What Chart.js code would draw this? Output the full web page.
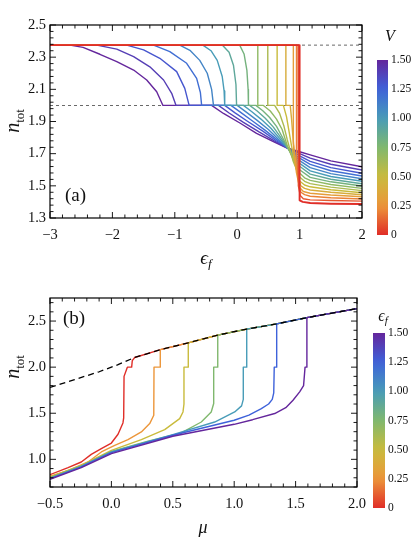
<!DOCTYPE html>
<html>
<head>
<meta charset="utf-8">
<script src="https://cdn.jsdelivr.net/npm/chart.js@4/dist/chart.umd.min.js"></script>
<style>
html,body{margin:0;padding:0;background:#fff;}
#wrap{position:relative;width:415px;height:542px;}
#ca{position:absolute;left:0;top:0;}
#cb{position:absolute;left:0;top:270px;}
</style>
</head>
<body>
<div id="wrap">
<canvas id="ca" width="415" height="270"></canvas>
<canvas id="cb" width="415" height="272"></canvas>
</div>
<script>
// panel (a): n_tot vs eps_f, one curve per V
const aV=[1.5,1.4,1.3,1.2,1.1,1.0,0.9,0.8,0.7,0.6,0.5,0.4,0.3,0.2,0.1,0];
const aC15=[[-3,2.375],[-2.68,2.375],[-2.47,2.361],[-2.2,2.318],[-1.93,2.272],[-1.66,2.22],[-1.45,2.158],[-1.29,2.085],[-1.19,2.0],[-0.41,2.0],[-0.22,1.95],[0.05,1.889],[0.31,1.826],[0.58,1.775],[0.8,1.735],[1.0,1.712],[1.17,1.692],[1.5,1.655],[2.0,1.619]];
const aC14=[[-3,2.375],[-2.25,2.375],[-1.93,2.35],[-1.66,2.303],[-1.4,2.24],[-1.18,2.158],[-1.05,2.075],[-0.98,2.0],[-0.3,2.0],[-0.13,1.953],[0.1,1.895],[0.35,1.835],[0.6,1.778],[0.8,1.736],[1.0,1.7],[1.17,1.672],[1.5,1.634],[2.0,1.598]];
const aC13=[[-3,2.375],[-1.77,2.375],[-1.5,2.345],[-1.24,2.293],[-0.97,2.21],[-0.84,2.106],[-0.77,2.0],[-0.2,2.0],[-0.04,1.955],[0.17,1.9],[0.41,1.84],[0.62,1.782],[0.8,1.737],[1.0,1.687],[1.17,1.652],[1.5,1.613],[2.0,1.578]];
const aC12=[[-3,2.375],[-1.34,2.375],[-1.08,2.334],[-0.81,2.262],[-0.65,2.168],[-0.59,2.08],[-0.57,2.0],[-0.1,2.0],[0.05,1.958],[0.24,1.905],[0.45,1.845],[0.64,1.786],[0.8,1.738],[1.0,1.672],[1.17,1.633],[1.5,1.594],[2.0,1.561]];
const aC11=[[-3,2.375],[-0.92,2.375],[-0.75,2.34],[-0.6,2.28],[-0.48,2.2],[-0.41,2.1],[-0.38,2.0],[0.0,2.0],[0.14,1.96],[0.31,1.91],[0.5,1.85],[0.66,1.79],[0.8,1.739],[1.0,1.657],[1.17,1.613],[1.5,1.576],[2.0,1.544]];
const aC10=[[-3,2.375],[-0.55,2.375],[-0.42,2.34],[-0.32,2.28],[-0.24,2.18],[-0.21,2.09],[-0.2,2.0],[0.1,2.0],[0.23,1.962],[0.38,1.915],[0.54,1.858],[0.68,1.795],[0.8,1.74],[0.9,1.69],[1.0,1.64],[1.17,1.593],[1.5,1.558],[2.0,1.528]];
const aC09=[[-3,2.375],[-0.24,2.375],[-0.13,2.33],[-0.06,2.25],[-0.02,2.13],[-0.01,2.0],[0.2,2.0],[0.32,1.965],[0.45,1.92],[0.58,1.865],[0.7,1.8],[0.8,1.742],[0.9,1.68],[1.0,1.622],[1.17,1.573],[1.5,1.541],[2.0,1.513]];
const aC08=[[-3,2.375],[0.04,2.375],[0.11,2.32],[0.155,2.22],[0.175,2.1],[0.18,2.0],[0.3,2.0],[0.41,1.967],[0.52,1.925],[0.63,1.87],[0.72,1.805],[0.8,1.745],[0.9,1.67],[1.0,1.6],[1.17,1.553],[1.5,1.525],[2.0,1.499]];
const aC07=[[-3,2.375],[0.33,2.375],[0.33,2.0],[0.42,2.0],[0.53,1.965],[0.63,1.915],[0.72,1.85],[0.8,1.752],[0.9,1.66],[1.0,1.58],[1.08,1.55],[1.17,1.534],[1.5,1.508],[2.0,1.484]];
const aC06=[[-3,2.375],[0.49,2.375],[0.49,2.0],[0.6,2.0],[0.68,1.95],[0.75,1.87],[0.8,1.79],[0.85,1.72],[0.9,1.65],[1.0,1.555],[1.08,1.528],[1.17,1.514],[1.5,1.492],[2.0,1.47]];
const aC05=[[-3,2.375],[0.64,2.375],[0.64,2.0],[0.74,2.0],[0.79,1.93],[0.83,1.84],[0.87,1.75],[0.91,1.67],[0.95,1.6],[1.0,1.53],[1.08,1.505],[1.17,1.494],[1.5,1.476],[2.0,1.457]];
const aC04=[[-3,2.375],[0.78,2.375],[0.78,2.0],[0.85,2.0],[0.87,1.92],[0.89,1.82],[0.91,1.73],[0.94,1.64],[0.98,1.55],[1.02,1.5],[1.08,1.484],[1.17,1.474],[1.5,1.46],[2.0,1.445]];
const aC03=[[-3,2.375],[0.9,2.375],[0.9,1.76],[0.92,1.68],[0.95,1.58],[1.0,1.49],[1.06,1.465],[1.17,1.454],[1.5,1.443],[2.0,1.432]];
const aC02=[[-3,2.375],[0.95,2.375],[0.95,1.7],[0.97,1.58],[0.99,1.5],[1.02,1.46],[1.08,1.445],[1.17,1.435],[1.5,1.426],[2.0,1.418]];
const aC01=[[-3,2.375],[0.975,2.375],[0.975,1.6],[0.985,1.5],[1.01,1.44],[1.06,1.42],[1.17,1.413],[1.5,1.409],[2.0,1.405]];
const aC00=[[-3,2.375],[1.0,2.375],[1.0,1.41],[1.05,1.4],[1.17,1.393],[1.5,1.389],[2.0,1.387]];
const aCurves=[aC15,aC14,aC13,aC12,aC11,aC10,aC09,aC08,aC07,aC06,aC05,aC04,aC03,aC02,aC01,aC00];
const aDashY=[2.375,2.0];
const aXTicks=[-3,-2,-1,0,1,2];
const aYTicks=[1.3,1.5,1.7,1.9,2.1,2.3,2.5];

// panel (b): n_tot vs mu, one curve per eps_f
const bEps=[0,0.25,0.5,0.75,1.0,1.25,1.5];
const bLow00=[[-0.5,0.834],[-0.353,0.91],[-0.245,0.971],[-0.164,1.054],[-0.082,1.116],[0.0,1.177],[0.054,1.272],[0.094,1.395],[0.1,1.45],[0.103,1.9],[0.13,2.0],[0.165,2.0],[0.17,2.07],[0.19,2.105]];
const bLow25=[[-0.5,0.818],[-0.35,0.88],[-0.19,0.971],[-0.082,1.08],[0.027,1.152],[0.135,1.214],[0.244,1.297],[0.312,1.388],[0.345,1.478],[0.347,2.0],[0.396,2.0],[0.396,2.19]];
const bLow50=[[-0.5,0.808],[-0.245,0.935],[0.0,1.098],[0.244,1.214],[0.434,1.323],[0.556,1.442],[0.583,1.514],[0.591,1.6],[0.591,2.0],[0.626,2.0],[0.626,2.264]];
const bLow75=[[-0.5,0.8],[-0.25,0.925],[0.0,1.087],[0.298,1.196],[0.569,1.286],[0.732,1.405],[0.813,1.514],[0.833,1.605],[0.833,2.0],[0.866,2.0],[0.866,2.348]];
const bLow100=[[-0.5,0.795],[-0.25,0.92],[0.0,1.08],[0.5,1.268],[0.841,1.405],[1.004,1.514],[1.06,1.58],[1.074,1.65],[1.074,2.0],[1.102,2.0],[1.102,2.413]];
const bLow125=[[-0.5,0.79],[-0.25,0.915],[0.0,1.073],[0.5,1.261],[1.0,1.424],[1.12,1.48],[1.221,1.551],[1.28,1.6],[1.31,1.65],[1.322,1.72],[1.326,2.0],[1.346,2.0],[1.346,2.47]];
const bLow150=[[-0.5,0.783],[-0.245,0.91],[0.0,1.062],[0.5,1.25],[1.0,1.38],[1.15,1.43],[1.33,1.497],[1.42,1.56],[1.479,1.641],[1.533,1.732],[1.565,1.8],[1.577,2.0],[1.592,2.0],[1.592,2.537]];
const bLows=[bLow00,bLow25,bLow50,bLow75,bLow100,bLow125,bLow150];
const bEnvelope=[[-0.5,1.78],[-0.3,1.865],[-0.1,1.95],[0.05,2.025],[0.19,2.105],[0.4,2.19],[0.626,2.264],[0.866,2.348],[1.102,2.413],[1.346,2.47],[1.592,2.537],[2.0,2.635]];
const bXTicks=[-0.5,0,0.5,1.0,1.5,2.0];
const bYTicks=[1.0,1.5,2.0,2.5];

const barVals=[0,0.25,0.5,0.75,1.0,1.25,1.5];
const barLabels=['0','0.25','0.50','0.75','1.00','1.25','1.50'];

const fontFam='"Liberation Serif","DejaVu Serif",serif';
const stops=[[224,46,40],[236,150,58],[201,187,60],[128,184,110],[72,156,184],[62,98,218],[100,38,156]];
function rainbow(t){
    const s=Math.max(0,Math.min(1,t))*(stops.length-1);
    const i=Math.min(Math.floor(s),stops.length-2);
    const f=s-i;
    const c=stops[i].map((v,k)=>Math.round(v+(stops[i+1][k]-v)*f));
    return "rgb("+c.join(",")+")";
}
const pts=arr=>arr.map(p=>({x:p[0],y:p[1]}));
const minus=s=>String(s).replace("-","\u2212");

function drawRuns(ctx,runs,x,y,align){
    let w=0;
    runs.forEach(r=>{ctx.font=r.font;w+=ctx.measureText(r.t).width;});
    let cx=align==="center"?x-w/2:x;
    runs.forEach(r=>{
        ctx.font=r.font;
        ctx.fillText(r.t,cx,y+(r.dy||0));
        cx+=ctx.measureText(r.t).width;
    });
}

function makeDecor(cfg){
    return {
        id:"decor",
        afterDraw(chart){
            const ctx=chart.ctx;
            const a=chart.chartArea;
            const x=chart.scales.x,y=chart.scales.y;
            ctx.save();
            ctx.strokeStyle="#000";
            ctx.lineWidth=0.9;
            const seg=(x1,y1,x2,y2)=>{ctx.beginPath();ctx.moveTo(x1,y1);ctx.lineTo(x2,y2);ctx.stroke();};
            for(let k=0;k<500;k++){
                const v=cfg.xStart+k*cfg.xSub;
                if(v>x.max+1e-9)break;
                if(v<x.min-1e-9)continue;
                const px=x.getPixelForValue(v);
                const len=k%cfg.xEvery===0?6:3.5;
                seg(px,a.bottom,px,a.bottom-len);
                seg(px,a.top,px,a.top+len);
            }
            for(let k=0;k<500;k++){
                const v=cfg.yStart+k*cfg.ySub;
                if(v>y.max+1e-9)break;
                if(v<y.min-1e-9)continue;
                const py=y.getPixelForValue(v);
                const len=k%cfg.yEvery===0?6:3.5;
                seg(a.left,py,a.left+len,py);
                seg(a.right,py,a.right-len,py);
            }
            ctx.lineWidth=1.2;
            ctx.strokeRect(a.left,a.top,a.right-a.left,a.bottom-a.top);

            // colour bar
            const b=cfg.bar;
            const g=ctx.createLinearGradient(0,b.bottom,0,b.top);
            for(let i=0;i<=20;i++){g.addColorStop(i/20,rainbow(i/20));}
            ctx.fillStyle=g;
            ctx.fillRect(b.x,b.top,b.w,b.bottom-b.top);
            ctx.fillStyle="#111";
            ctx.font="11.5px "+fontFam;
            ctx.textBaseline="middle";
            ctx.textAlign="left";
            barVals.forEach((v,i)=>{
                const py=b.bottom-v/1.5*(b.bottom-b.top);
                ctx.fillText(barLabels[i],b.x+b.w+3,py);
            });

            ctx.textBaseline="alphabetic";
            cfg.texts.forEach(t=>{
                if(t.rot){
                    ctx.save();
                    ctx.translate(t.x,t.y);
                    ctx.rotate(-Math.PI/2);
                    drawRuns(ctx,t.runs,0,0,"center");
                    ctx.restore();
                }else{
                    drawRuns(ctx,t.runs,t.x,t.y,t.align||"center");
                }
            });
            ctx.restore();
        }
    };
}

function makeChart(id,cfg){
    new Chart(document.getElementById(id),{
        type:"scatter",
        data:{datasets:cfg.datasets},
        options:{
            responsive:false,
            animation:false,
            events:[],
            layout:{padding:{left:0,right:cfg.padRight,top:cfg.padTop,bottom:0}},
            plugins:{legend:{display:false},tooltip:{enabled:false}},
            elements:{point:{radius:0},line:{tension:0,borderJoinStyle:"round"}},
            scales:{
                x:{
                    type:"linear",min:cfg.xMin,max:cfg.xMax,
                    grid:{display:false,drawTicks:false},border:{display:false},
                    afterBuildTicks:s=>{s.ticks=cfg.xTicks.map(v=>({value:v}));},
                    afterFit:s=>{s.height=cfg.xAxisH;},
                    ticks:{autoSkip:false,maxRotation:0,padding:8,color:"#111",
                        font:{family:fontFam,size:14.5},callback:cfg.xFmt}
                },
                y:{
                    type:"linear",min:cfg.yMin,max:cfg.yMax,
                    grid:{display:false,drawTicks:false},border:{display:false},
                    afterBuildTicks:s=>{s.ticks=cfg.yTicks.map(v=>({value:v}));},
                    afterFit:s=>{s.width=50;},
                    ticks:{autoSkip:false,padding:4,color:"#111",
                        font:{family:fontFam,size:14.5},callback:v=>Number(v).toFixed(1)}
                }
            }
        },
        plugins:[makeDecor(cfg)]
    });
}

// datasets for (a)
const aSets=[];
aDashY.forEach(v=>{
    aSets.push({data:pts([[-3,v],[2,v]]),showLine:true,borderColor:"#444",borderWidth:0.8,borderDash:[3,3],order:100});
});
aCurves.forEach((c,i)=>{
    aSets.push({data:pts(c),showLine:true,borderColor:rainbow(aV[i]/1.5),borderWidth:aV[i]===0?1.9:1.4,order:50-i});
});

// datasets for (b)
const bSets=[];
bLows.forEach((low,i)=>{
    const last=low[low.length-1][0];
    const path=low.concat(bEnvelope.filter(p=>p[0]>last));
    bSets.push({data:pts(path),showLine:true,borderColor:rainbow(bEps[i]/1.5),borderWidth:1.4,order:20-i});
});
bSets.push({data:pts(bEnvelope),showLine:true,borderColor:"#000",borderWidth:1.3,borderDash:[6,4],order:0});

const it=(s)=>"italic "+s+"px "+fontFam;
const rm=(s)=>s+"px "+fontFam;

makeChart("ca",{
    datasets:aSets,xMin:-3,xMax:2,yMin:1.3,yMax:2.5,
    xTicks:aXTicks,yTicks:aYTicks,xFmt:v=>minus(v),
    padRight:53,padTop:25,xAxisH:52,
    xStart:-3,xSub:0.2,xEvery:5,yStart:1.3,ySub:0.04,yEvery:5,
    bar:{x:377,top:60,bottom:235,w:11},
    texts:[
        {runs:[{t:"(a)",font:rm(19)}],x:65,y:201,align:"left"},
        {runs:[{t:"\u03f5",font:it(19)},{t:"f",font:it(13),dy:4}],x:206,y:264},
        {rot:true,runs:[{t:"n",font:it(20)},{t:"tot",font:rm(13),dy:4.5}],x:19,y:121},
        {runs:[{t:"V",font:it(16)}],x:390,y:41}
    ]
});

makeChart("cb",{
    datasets:bSets,xMin:-0.5,xMax:2.0,yMin:0.7,yMax:2.75,
    xTicks:bXTicks,yTicks:bYTicks,xFmt:v=>minus(Number(v).toFixed(1)),
    padRight:58,padTop:28,xAxisH:55,
    xStart:-0.5,xSub:0.1,xEvery:5,yStart:0.5,ySub:0.1,yEvery:5,
    bar:{x:373,top:63,bottom:238,w:12},
    texts:[
        {runs:[{t:"(b)",font:rm(19)}],x:63,y:54,align:"left"},
        {runs:[{t:"\u03bc",font:it(18)}],x:203,y:263},
        {rot:true,runs:[{t:"n",font:it(20)},{t:"tot",font:rm(13),dy:4.5}],x:19,y:97},
        {runs:[{t:"\u03f5",font:it(16)},{t:"f",font:it(11),dy:3}],x:383,y:51}
    ]
});
</script>
</body>
</html>
